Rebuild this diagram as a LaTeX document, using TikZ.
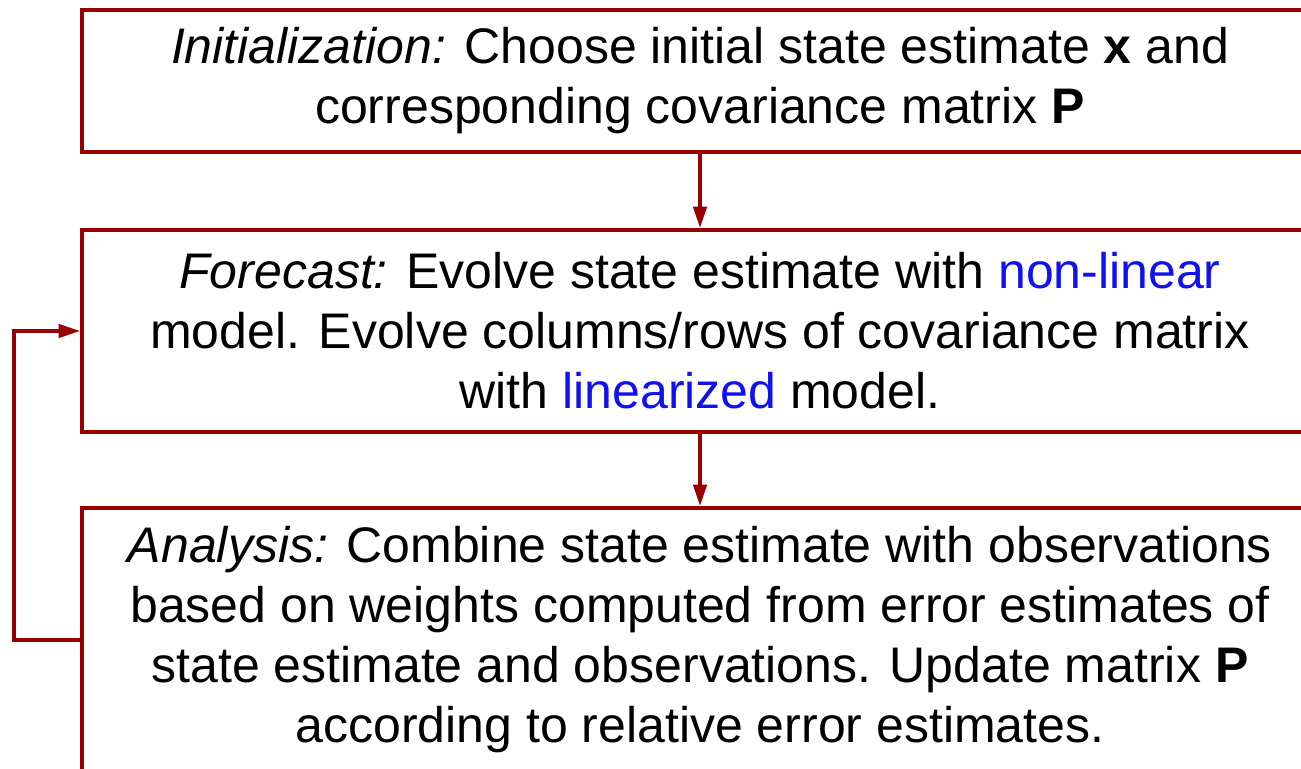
\documentclass[tikz,border=0pt]{standalone}
\usepackage{fontspec}
\setmainfont{Liberation Sans}
\usetikzlibrary{arrows.meta}
\definecolor{boxred}{HTML}{990000}
\definecolor{hiblue}{HTML}{1010F0}

\begin{document}
\begin{tikzpicture}[x=0.75pt, y=-0.75pt,
    stage/.style={draw=boxred, line width=3pt, align=center, inner sep=0pt,
      minimum width=927pt, font=\fontsize{37.5}{45}\selectfont},
    link/.style={draw=boxred, line width=2.6pt, -{Triangle[length=16pt,width=10pt]}}]
  \useasboundingbox (0,0) rectangle (1301,768);
  \node[stage, minimum height=106.5pt] (init) at (700,81)
    {\textit{Initialization:} Choose initial state estimate \textbf{x} and\\
     corresponding covariance matrix \textbf{P}};
  \node[stage, minimum height=151.5pt] (fcst) at (700,331)
    {\textit{Forecast:} Evolve state estimate with \textcolor{hiblue}{non-linear}\\
     model. Evolve columns/rows of covariance matrix\\
     with \textcolor{hiblue}{linearized} model.};
  \node[stage, minimum height=198pt] (anal) at (700,640)
    {\textit{Analysis:} Combine state estimate with observations\\
     based on weights computed from error estimates of\\
     state estimate and observations. Update matrix \textbf{P}\\
     according to relative error estimates.};
  \coordinate (back) at (14,0);
  \draw[link] (init) -- (fcst);
  \draw[link] (fcst) -- (anal);
  \draw[link] (anal.west) -- (anal.west -| back) |- (fcst.west);
\end{tikzpicture}
\end{document}
